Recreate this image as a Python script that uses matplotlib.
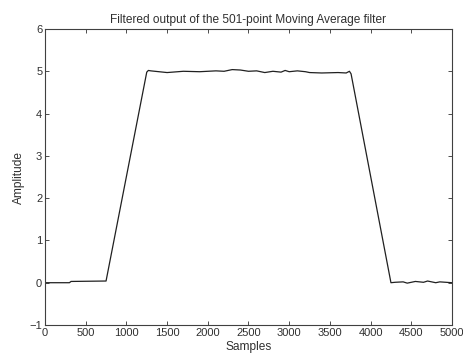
"""
Filtered output of a 501-point moving average filter
"""

import numpy as np
import matplotlib.pyplot as plt

# values
samples = [0, 300, 320, 750, 1250, 1270, 1300, 1400, 1500, 1700, 1900, 2100,
           2200, 2300, 2400, 2500, 2600, 2700, 2800, 2900, 2950, 3000, 3100,
           3200, 3250, 3400, 3600, 3700, 3740, 3760, 4250, 4300, 4400, 4450,
           4550, 4650, 4700, 4800, 4850, 5000]
amplitude = [0.0, 0.0, 0.03, 0.04, 4.98, 5.02, 5.01, 4.99, 4.97, 5.0, 4.99, 5.01,
             5.0, 5.04, 5.03, 5.0, 5.01, 4.97, 5.0, 4.98, 5.02, 4.99, 5.01,
             4.99, 4.97, 4.96, 4.97, 4.96, 5.0, 4.94, 0.0, 0.01, 0.02, -0.01,
             0.03, 0.01, 0.04, 0.0, 0.02, 0.0]

xticks = [0, 500, 1000, 1500, 2000, 2500, 3000, 3500, 4000, 4500, 5000]
yticks = [-1, 0, 1, 2, 3, 4, 5, 6]

plt.rcParams['font.family'] = ['Liberation Sans', 'DejaVu Sans']
plt.rcParams['font.size'] = 8

fig = plt.figure(figsize=(4.64, 3.58), dpi=100)
ax = fig.add_axes([45/464, 1 - 325/358, 407/464, 296/358])
ax.plot(samples, amplitude, color='#202020', lw=0.9)

ax.set_xlim(0, 5000)
ax.set_ylim(-1, 6)
ax.set_xticks(xticks)
ax.set_yticks(yticks)
ax.tick_params(direction='in', top=True, right=True, length=3, width=0.6,
               colors='#303030', labelcolor='#303030', pad=2)
for s in ax.spines.values():
  s.set_linewidth(0.8)
  s.set_color('#404040')

ax.set_title("Filtered output of the 501-point Moving Average filter",
             fontsize=8.6, color='#303030', pad=4)
ax.set_xlabel("Samples", fontsize=8.6, color='#303030', labelpad=2)
ax.set_ylabel("Amplitude", fontsize=8.6, color='#303030', labelpad=3)

plt.savefig("out.png", dpi=100)
